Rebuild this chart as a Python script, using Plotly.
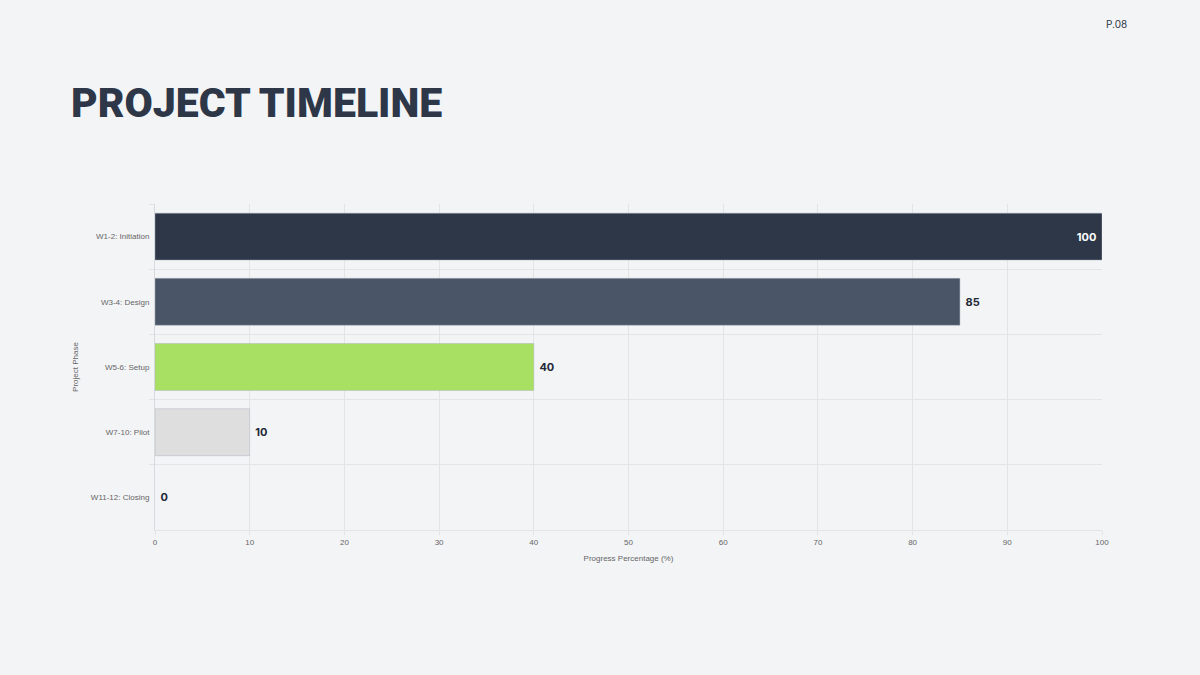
import plotly.graph_objects as go

# Project phases and their progress (%)
phases = ["W1-2: Initiation", "W3-4: Design", "W5-6: Setup", "W7-10: Pilot", "W11-12: Closing"]
progress = [100, 85, 40, 10, 0]
bar_colors = ["#2d3748", "#4a5568", "#a8e063", "#dedede", "#cbd5e0"]

x_ticks = [0, 10, 20, 30, 40, 50, 60, 70, 80, 90, 100]

bg = "#f3f4f6"
grid = "#e3e4e6"
pad = "\u00a0"

# full bars get their label inside, the rest outside
text_pos = ["inside" if v >= 95 else "outside" for v in progress]
text_col = ["#ffffff" if v >= 95 else "#1f2937" for v in progress]
labels = [str(v) + pad if v >= 95 else pad + str(v) for v in progress]
edge_col = ["rgba(0,0,0,0)" if v == 0 else "rgba(170,178,190,0.45)" for v in progress]

fig = go.Figure(go.Bar(
    x=progress,
    y=phases,
    orientation="h",
    marker=dict(color=bar_colors, line=dict(color=edge_col, width=1)),
    width=0.72,
    text=labels,
    textposition=text_pos,
    insidetextanchor="end",
    textfont=dict(family="Inter, sans-serif", size=11, color=text_col, weight="bold"),
    cliponaxis=False,
    hoverinfo="x+y",
))

fig.update_layout(
    width=1200,
    height=675,
    paper_bgcolor=bg,
    plot_bgcolor=bg,
    margin=dict(l=155, r=98, t=204, b=145),
    showlegend=False,
    font=dict(family="Liberation Sans, Arial, sans-serif", color="#666666", size=9),
)

fig.update_xaxes(
    range=[0, 100],
    tickvals=x_ticks,
    showgrid=True,
    gridcolor=grid,
    gridwidth=1,
    zeroline=False,
    showline=True,
    linecolor=grid,
    ticks="outside",
    ticklen=4,
    tickcolor=grid,
    tickfont=dict(size=8, color="#666666"),
    title=dict(text="Progress Percentage (%)", font=dict(size=8, color="#666666"), standoff=9),
)

fig.update_yaxes(
    categoryorder="array",
    categoryarray=phases,
    autorange="reversed",
    tickson="boundaries",
    showgrid=True,
    gridcolor=grid,
    gridwidth=1,
    showline=True,
    linecolor="#d8d9dc",
    ticks="outside",
    ticklen=5,
    tickcolor=grid,
    ticklabelstandoff=3,
    tickfont=dict(size=8, color="#666666"),
    title=dict(text="Project Phase", font=dict(size=8, color="#666666"), standoff=11),
)

# slide title and page number
fig.add_annotation(
    text="PROJECT TIMELINE",
    xref="paper", yref="paper",
    x=-0.091, y=1.0, xanchor="left", yanchor="bottom",
    yshift=75,
    showarrow=False,
    font=dict(family="Roboto, sans-serif", size=41, color="#2d3748", weight=900),
)
fig.add_annotation(
    text="P.08",
    xref="paper", yref="paper",
    x=1.028, y=1.0, xanchor="right", yanchor="bottom",
    yshift=172,
    showarrow=False,
    font=dict(family="Inter, sans-serif", size=10, color="#2d3748"),
)

fig.write_html("out.html", config={"displayModeBar": False},
               post_script="document.body.style.margin='0';")
